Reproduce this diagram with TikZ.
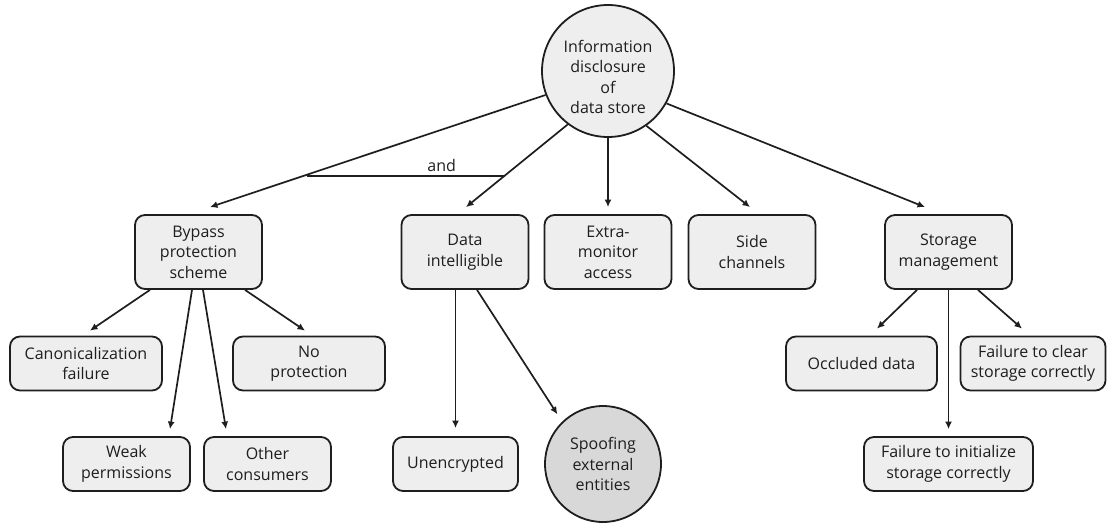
\documentclass[tikz,border=0pt]{standalone}
\usepackage{fontspec}
\setmainfont{Open Sans}
\usetikzlibrary{arrows.meta}
\definecolor{ink}{HTML}{1E1E1E}
\definecolor{edge}{HTML}{1E1E1E}
\definecolor{boxfill}{HTML}{EEEEEE}
\definecolor{darkfill}{HTML}{D8D8D8}
\begin{document}
\begin{tikzpicture}[x=1pt,y=-1pt,
  every node/.style={font=\fontsize{16}{20.5}\selectfont, text=ink},
  box/.style={draw=edge, line width=1.8pt, fill=boxfill, rounded corners=10pt,
              align=center, inner sep=0pt},
  tall/.style={box, minimum width=127pt, minimum height=74pt},
  flat/.style={box, minimum height=54pt},
  bubble/.style={draw=edge, line width=1.8pt, circle, align=center, inner sep=0pt},
  link/.style={line width=1.7pt, draw=edge, -{Latex[length=7.5pt,width=7pt]}},
  plain/.style={line width=1.7pt, draw=edge},
]
\useasboundingbox (0,0) rectangle (1107,525);

% root of the tree
\node[bubble, fill=boxfill, minimum size=132pt,
      label={[align=center, yshift=-6pt]center:Information\\disclosure\\of\\data store}]
      (root) at (608,71) {};

% second level
\node[tall] (bypass)  at (198.5,252) {Bypass\\protection\\scheme};
\node[tall] (data)    at (465,252)   {Data\\intelligible};
\node[tall] (extra)   at (608,252)   {Extra-\\monitor\\access};
\node[tall] (side)    at (752,252)   {Side\\channels};
\node[tall] (storage) at (948.5,252) {Storage\\management};

% third level
\node[flat, minimum width=152pt] (canon)  at (86,363.5)  {Canonicalization\\failure};
\node[flat, minimum width=152pt] (noprot) at (309,363.5) {No\\protection};
\node[flat, minimum width=127pt] (weak)   at (126.5,464) {Weak\\permissions};
\node[flat, minimum width=127pt] (other)  at (267.5,464) {Other\\consumers};
\node[flat, minimum width=125pt] (unenc)  at (455.5,464) {Unencrypted};
\node[bubble, fill=darkfill, minimum size=116pt] (spoof) at (603,464)
      {Spoofing\\external\\entities};
\node[flat, minimum width=151pt] (occl)   at (861.5,363.5) {Occluded data};
\node[flat, minimum width=145pt] (fclear) at (1033,363.5)  {Failure to clear\\storage correctly};
\node[flat, minimum width=169pt] (finit)  at (948.5,464)   {Failure to initialize\\storage correctly};

% arrows from the root
\draw[link] (root.201) -- ([xshift=11.5pt,yshift=7pt]bypass.north);
\draw[link] (root.233) -- ([xshift=1pt,yshift=7pt]data.north);
\draw[link] (root.270) -- ([yshift=7pt]extra.north);
\draw[link] (root.305) -- ([xshift=-2pt,yshift=7pt]side.north);
\draw[link] (root.331) -- ([xshift=-23.5pt,yshift=7pt]storage.north);

% "and" bar joining the first two branches
\coordinate (andL) at (307,176);
\coordinate (andR) at (505,176);
\draw[plain] (andL) -- node[above=0pt, pos=0.68] (andlbl) {and} (andR);

% under "Bypass protection scheme"
\draw[link] ([xshift=-48.5pt]bypass.south) -- ([xshift=4pt,yshift=5pt]canon.north);
\draw[link] ([xshift=46.5pt]bypass.south)  -- ([xshift=-4pt,yshift=5pt]noprot.north);
\draw[link] ([xshift=-6.5pt]bypass.south)  -- ([xshift=43.5pt,yshift=7pt]weak.north);
\draw[link] ([xshift=4.5pt]bypass.south)   -- ([xshift=-41.5pt,yshift=7pt]other.north);

% under "Data intelligible"
\draw[link] ([xshift=-9.5pt]data.south) -- ([yshift=8pt]unenc.north);
\draw[link] ([xshift=12pt]data.south)   -- ([xshift=-5.4pt,yshift=6.6pt]spoof.133);

% under "Storage management"
\draw[link] ([xshift=-31.5pt]storage.south) -- ([xshift=15.5pt,yshift=7pt]occl.north);
\draw[link] ([xshift=29.5pt]storage.south)  -- ([xshift=-11pt,yshift=7pt]fclear.north);
\draw[link] (storage.south) -- ([yshift=7pt]finit.north);
\end{tikzpicture}
\end{document}
